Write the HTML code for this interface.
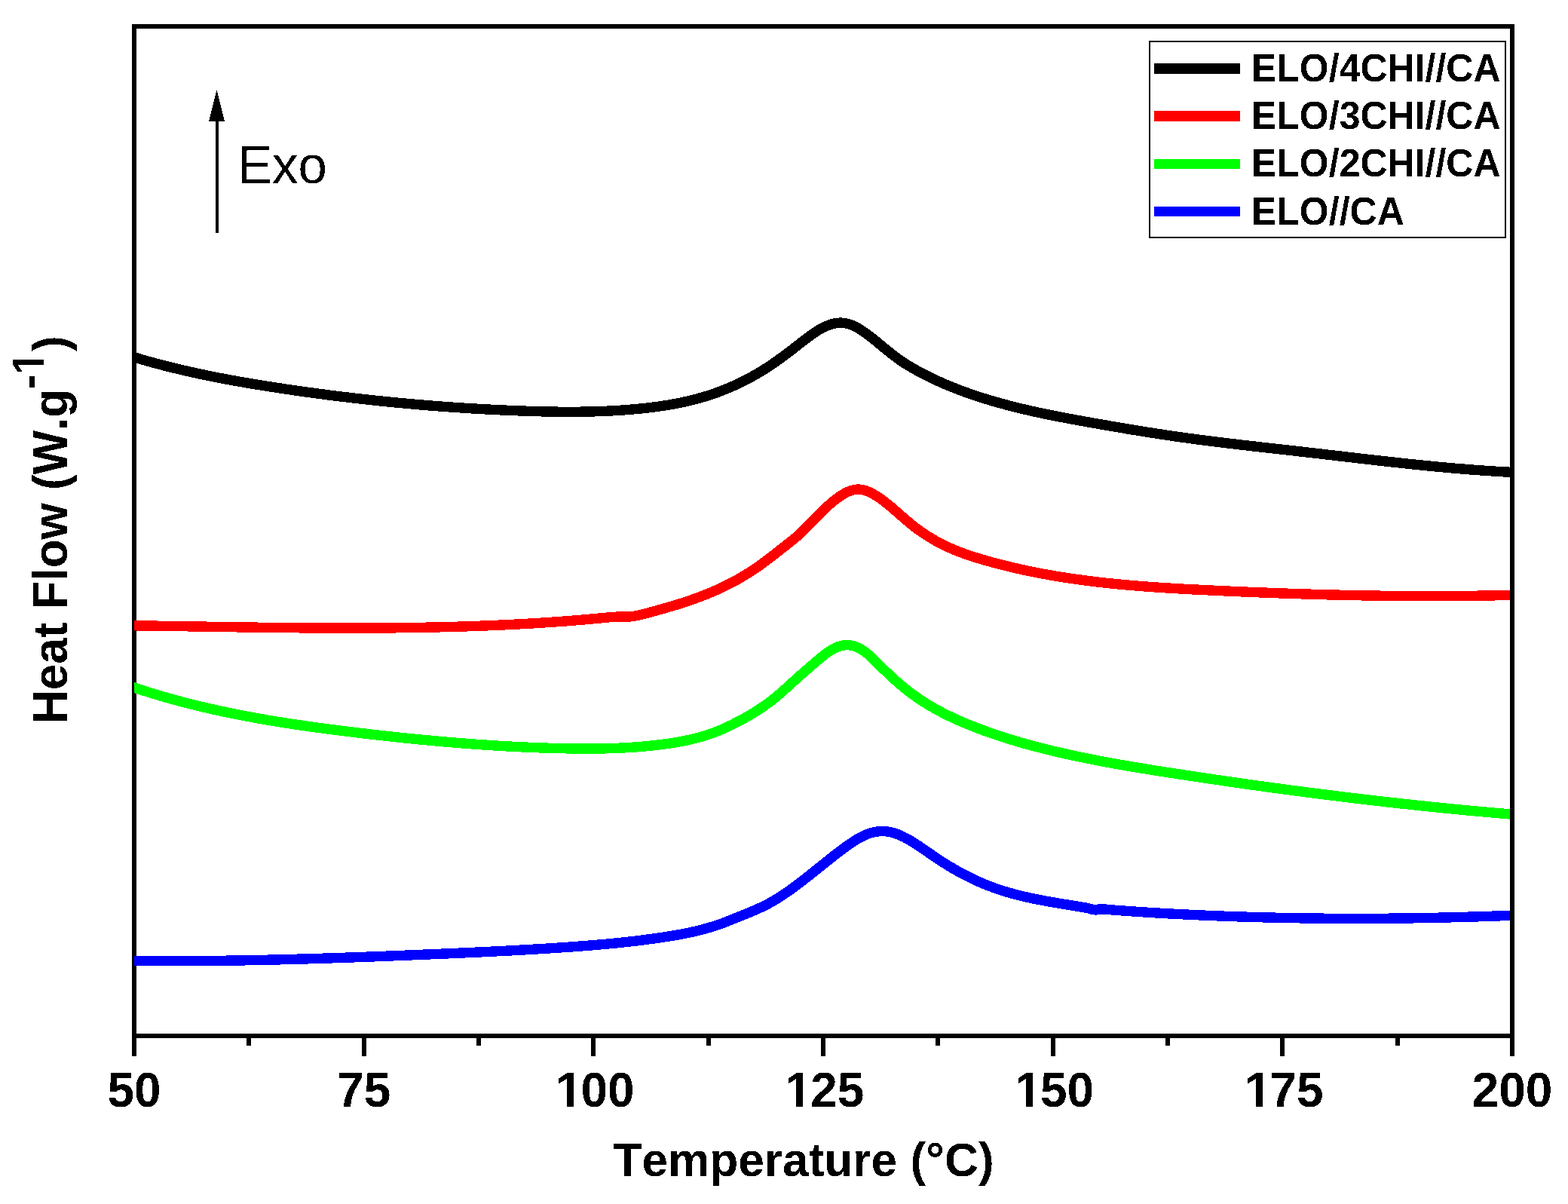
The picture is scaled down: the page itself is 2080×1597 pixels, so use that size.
<!DOCTYPE html>
<html><head><meta charset="utf-8"><title>DSC curves</title>
<style>
html,body{margin:0;padding:0;background:#fff;}
body{width:2080px;height:1597px;overflow:hidden;}
svg{display:block;}
text{font-family:"Liberation Sans",Arial,sans-serif;font-kerning:none;}
</style></head>
<body>
<svg xmlns="http://www.w3.org/2000/svg" width="2080" height="1597" viewBox="0 0 2080 1597">
<defs><filter id="crisp" x="-2500" y="-2500" width="5000" height="5000" filterUnits="userSpaceOnUse" color-interpolation-filters="sRGB"><feComponentTransfer><feFuncA type="discrete" tableValues="0 1"/></feComponentTransfer></filter><clipPath id="plotclip"><rect x="178" y="0" width="1825" height="1597"/></clipPath></defs>
<rect x="0" y="0" width="2080" height="1597" fill="#fff"/>
<rect x="178" y="35" width="1828" height="1339" fill="none" stroke="#000" stroke-width="6"/>
<g stroke="#000" stroke-width="6" shape-rendering="crispEdges">
<line x1="178.00" y1="1374" x2="178.00" y2="1401"/><line x1="330.33" y1="1374" x2="330.33" y2="1387"/><line x1="482.67" y1="1374" x2="482.67" y2="1401"/><line x1="635.00" y1="1374" x2="635.00" y2="1387"/><line x1="787.33" y1="1374" x2="787.33" y2="1401"/><line x1="939.67" y1="1374" x2="939.67" y2="1387"/><line x1="1092.00" y1="1374" x2="1092.00" y2="1401"/><line x1="1244.33" y1="1374" x2="1244.33" y2="1387"/><line x1="1396.67" y1="1374" x2="1396.67" y2="1401"/><line x1="1549.00" y1="1374" x2="1549.00" y2="1387"/><line x1="1701.33" y1="1374" x2="1701.33" y2="1401"/><line x1="1853.67" y1="1374" x2="1853.67" y2="1387"/><line x1="2006.00" y1="1374" x2="2006.00" y2="1401"/>
</g>
<g clip-path="url(#plotclip)" fill="none" stroke-width="13.4" stroke-linejoin="round" stroke-linecap="butt" shape-rendering="crispEdges">
<path stroke="#000000" d="M172.0 472.03 L174.0 472.64 L176.0 473.25 L178.0 473.86 L180.0 474.46 L182.0 475.05 L184.0 475.64 L186.0 476.23 L188.0 476.81 L190.0 477.38 L192.0 477.96 L194.0 478.52 L196.0 479.09 L198.0 479.65 L200.0 480.20 L202.0 480.75 L204.0 481.29 L206.0 481.83 L208.0 482.37 L210.0 482.90 L212.0 483.43 L214.0 483.95 L216.0 484.47 L218.0 484.99 L220.0 485.50 L222.0 486.00 L224.0 486.51 L226.0 487.01 L228.0 487.50 L230.0 487.99 L232.0 488.48 L234.0 488.96 L236.0 489.44 L238.0 489.91 L240.0 490.39 L242.0 490.85 L244.0 491.32 L246.0 491.78 L248.0 492.24 L250.0 492.69 L252.0 493.14 L254.0 493.59 L256.0 494.03 L258.0 494.47 L260.0 494.90 L262.0 495.34 L264.0 495.77 L266.0 496.19 L268.0 496.61 L270.0 497.03 L272.0 497.45 L274.0 497.86 L276.0 498.27 L278.0 498.68 L280.0 499.08 L282.0 499.49 L284.0 499.88 L286.0 500.28 L288.0 500.67 L290.0 501.06 L292.0 501.45 L294.0 501.83 L296.0 502.21 L298.0 502.59 L300.0 502.97 L302.0 503.34 L304.0 503.71 L306.0 504.08 L308.0 504.44 L310.0 504.81 L312.0 505.17 L314.0 505.52 L316.0 505.88 L318.0 506.23 L320.0 506.58 L322.0 506.93 L324.0 507.28 L326.0 507.62 L328.0 507.97 L330.0 508.31 L332.0 508.64 L334.0 508.98 L336.0 509.31 L338.0 509.64 L340.0 509.97 L342.0 510.30 L344.0 510.63 L346.0 510.95 L348.0 511.28 L350.0 511.60 L352.0 511.92 L354.0 512.23 L356.0 512.55 L358.0 512.86 L360.0 513.18 L362.0 513.49 L364.0 513.80 L366.0 514.10 L368.0 514.41 L370.0 514.72 L372.0 515.02 L374.0 515.32 L376.0 515.62 L378.0 515.92 L380.0 516.22 L382.0 516.51 L384.0 516.81 L386.0 517.10 L388.0 517.40 L390.0 517.69 L392.0 517.97 L394.0 518.26 L396.0 518.55 L398.0 518.83 L400.0 519.12 L402.0 519.40 L404.0 519.68 L406.0 519.96 L408.0 520.24 L410.0 520.51 L412.0 520.79 L414.0 521.06 L416.0 521.33 L418.0 521.60 L420.0 521.87 L422.0 522.14 L424.0 522.40 L426.0 522.67 L428.0 522.93 L430.0 523.19 L432.0 523.45 L434.0 523.71 L436.0 523.97 L438.0 524.22 L440.0 524.48 L442.0 524.73 L444.0 524.98 L446.0 525.23 L448.0 525.48 L450.0 525.73 L452.0 525.97 L454.0 526.22 L456.0 526.46 L458.0 526.70 L460.0 526.94 L462.0 527.18 L464.0 527.42 L466.0 527.65 L468.0 527.89 L470.0 528.12 L472.0 528.35 L474.0 528.58 L476.0 528.81 L478.0 529.04 L480.0 529.26 L482.0 529.49 L484.0 529.71 L486.0 529.93 L488.0 530.15 L490.0 530.37 L492.0 530.58 L494.0 530.80 L496.0 531.01 L498.0 531.23 L500.0 531.44 L502.0 531.65 L504.0 531.85 L506.0 532.06 L508.0 532.27 L510.0 532.47 L512.0 532.67 L514.0 532.87 L516.0 533.07 L518.0 533.27 L520.0 533.47 L522.0 533.66 L524.0 533.86 L526.0 534.05 L528.0 534.24 L530.0 534.43 L532.0 534.62 L534.0 534.80 L536.0 534.99 L538.0 535.17 L540.0 535.35 L542.0 535.54 L544.0 535.71 L546.0 535.89 L548.0 536.07 L550.0 536.24 L552.0 536.42 L554.0 536.59 L556.0 536.76 L558.0 536.93 L560.0 537.10 L562.0 537.26 L564.0 537.43 L566.0 537.59 L568.0 537.75 L570.0 537.92 L572.0 538.07 L574.0 538.23 L576.0 538.39 L578.0 538.54 L580.0 538.70 L582.0 538.85 L584.0 539.00 L586.0 539.15 L588.0 539.30 L590.0 539.44 L592.0 539.59 L594.0 539.73 L596.0 539.87 L598.0 540.01 L600.0 540.15 L602.0 540.29 L604.0 540.43 L606.0 540.56 L608.0 540.69 L610.0 540.83 L612.0 540.96 L614.0 541.09 L616.0 541.21 L618.0 541.34 L620.0 541.46 L622.0 541.59 L624.0 541.71 L626.0 541.83 L628.0 541.95 L630.0 542.07 L632.0 542.18 L634.0 542.30 L636.0 542.41 L638.0 542.52 L640.0 542.63 L642.0 542.74 L644.0 542.85 L646.0 542.96 L648.0 543.06 L650.0 543.16 L652.0 543.26 L654.0 543.37 L656.0 543.46 L658.0 543.56 L660.0 543.66 L662.0 543.75 L664.0 543.85 L666.0 543.94 L668.0 544.03 L670.0 544.12 L672.0 544.20 L674.0 544.29 L676.0 544.37 L678.0 544.46 L680.0 544.54 L682.0 544.62 L684.0 544.70 L686.0 544.78 L688.0 544.85 L690.0 544.93 L692.0 545.00 L694.0 545.07 L696.0 545.14 L698.0 545.21 L700.0 545.28 L702.0 545.34 L704.0 545.41 L706.0 545.47 L708.0 545.53 L710.0 545.59 L712.0 545.64 L714.0 545.70 L716.0 545.75 L718.0 545.80 L720.0 545.85 L722.0 545.89 L724.0 545.94 L726.0 545.98 L728.0 546.02 L730.0 546.05 L732.0 546.09 L734.0 546.12 L736.0 546.15 L738.0 546.17 L740.0 546.20 L742.0 546.22 L744.0 546.24 L746.0 546.25 L748.0 546.26 L750.0 546.27 L752.0 546.28 L754.0 546.29 L756.0 546.29 L758.0 546.28 L760.0 546.28 L762.0 546.27 L764.0 546.26 L766.0 546.24 L768.0 546.22 L770.0 546.20 L772.0 546.18 L774.0 546.15 L776.0 546.12 L778.0 546.08 L780.0 546.04 L782.0 546.00 L784.0 545.95 L786.0 545.90 L788.0 545.84 L790.0 545.78 L792.0 545.72 L794.0 545.66 L796.0 545.58 L798.0 545.51 L800.0 545.43 L802.0 545.35 L804.0 545.26 L806.0 545.17 L808.0 545.07 L810.0 544.97 L812.0 544.87 L814.0 544.76 L816.0 544.64 L818.0 544.52 L820.0 544.40 L822.0 544.27 L824.0 544.14 L826.0 544.00 L828.0 543.86 L830.0 543.71 L832.0 543.56 L834.0 543.40 L836.0 543.24 L838.0 543.07 L840.0 542.90 L842.0 542.72 L844.0 542.54 L846.0 542.35 L848.0 542.16 L850.0 541.96 L852.0 541.75 L854.0 541.54 L856.0 541.33 L858.0 541.10 L860.0 540.87 L862.0 540.64 L864.0 540.40 L866.0 540.15 L868.0 539.89 L870.0 539.63 L872.0 539.36 L874.0 539.08 L876.0 538.80 L878.0 538.50 L880.0 538.20 L882.0 537.89 L884.0 537.57 L886.0 537.25 L888.0 536.91 L890.0 536.57 L892.0 536.21 L894.0 535.85 L896.0 535.48 L898.0 535.09 L900.0 534.70 L902.0 534.30 L904.0 533.88 L906.0 533.46 L908.0 533.02 L910.0 532.58 L912.0 532.12 L914.0 531.65 L916.0 531.17 L918.0 530.68 L920.0 530.17 L922.0 529.66 L924.0 529.13 L926.0 528.59 L928.0 528.03 L930.0 527.47 L932.0 526.89 L934.0 526.29 L936.0 525.69 L938.0 525.07 L940.0 524.43 L942.0 523.78 L944.0 523.12 L946.0 522.45 L948.0 521.75 L950.0 521.05 L952.0 520.33 L954.0 519.59 L956.0 518.84 L958.0 518.07 L960.0 517.29 L962.0 516.49 L964.0 515.68 L966.0 514.85 L968.0 514.00 L970.0 513.14 L972.0 512.26 L974.0 511.37 L976.0 510.46 L978.0 509.53 L980.0 508.58 L982.0 507.62 L984.0 506.64 L986.0 505.65 L988.0 504.63 L990.0 503.60 L992.0 502.55 L994.0 501.48 L996.0 500.40 L998.0 499.30 L1000.0 498.18 L1002.0 497.04 L1004.0 495.88 L1006.0 494.70 L1008.0 493.51 L1010.0 492.29 L1012.0 491.06 L1014.0 489.81 L1016.0 488.53 L1018.0 487.24 L1020.0 485.93 L1022.0 484.60 L1024.0 483.25 L1026.0 481.88 L1028.0 480.50 L1030.0 479.10 L1032.0 477.68 L1034.0 476.24 L1036.0 474.80 L1038.0 473.33 L1040.0 471.86 L1042.0 470.37 L1044.0 468.87 L1046.0 467.36 L1048.0 465.84 L1050.0 464.31 L1052.0 462.76 L1054.0 461.22 L1056.0 459.66 L1058.0 458.10 L1060.0 456.53 L1062.0 454.96 L1064.0 453.40 L1066.0 451.84 L1068.0 450.30 L1070.0 448.78 L1072.0 447.28 L1074.0 445.81 L1076.0 444.36 L1078.0 442.96 L1080.0 441.60 L1082.0 440.28 L1084.0 439.01 L1086.0 437.79 L1088.0 436.62 L1090.0 435.52 L1092.0 434.47 L1094.0 433.50 L1096.0 432.59 L1098.0 431.75 L1100.0 431.00 L1102.0 430.32 L1104.0 429.73 L1106.0 429.23 L1108.0 428.82 L1110.0 428.51 L1112.0 428.29 L1114.0 428.18 L1116.0 428.18 L1118.0 428.28 L1120.0 428.51 L1122.0 428.84 L1124.0 429.29 L1126.0 429.85 L1128.0 430.52 L1130.0 431.27 L1132.0 432.13 L1134.0 433.06 L1136.0 434.08 L1138.0 435.18 L1140.0 436.35 L1142.0 437.58 L1144.0 438.88 L1146.0 440.23 L1148.0 441.64 L1150.0 443.09 L1152.0 444.58 L1154.0 446.10 L1156.0 447.66 L1158.0 449.24 L1160.0 450.84 L1162.0 452.46 L1164.0 454.10 L1166.0 455.75 L1168.0 457.40 L1170.0 459.06 L1172.0 460.71 L1174.0 462.36 L1176.0 464.01 L1178.0 465.64 L1180.0 467.25 L1182.0 468.85 L1184.0 470.42 L1186.0 471.97 L1188.0 473.48 L1190.0 474.97 L1192.0 476.41 L1194.0 477.81 L1196.0 479.19 L1198.0 480.52 L1200.0 481.83 L1202.0 483.11 L1204.0 484.35 L1206.0 485.57 L1208.0 486.77 L1210.0 487.94 L1212.0 489.09 L1214.0 490.21 L1216.0 491.32 L1218.0 492.41 L1220.0 493.49 L1222.0 494.55 L1224.0 495.60 L1226.0 496.63 L1228.0 497.65 L1230.0 498.66 L1232.0 499.65 L1234.0 500.63 L1236.0 501.60 L1238.0 502.55 L1240.0 503.50 L1242.0 504.43 L1244.0 505.34 L1246.0 506.25 L1248.0 507.14 L1250.0 508.02 L1252.0 508.89 L1254.0 509.75 L1256.0 510.60 L1258.0 511.44 L1260.0 512.26 L1262.0 513.08 L1264.0 513.89 L1266.0 514.68 L1268.0 515.46 L1270.0 516.24 L1272.0 517.00 L1274.0 517.76 L1276.0 518.51 L1278.0 519.24 L1280.0 519.97 L1282.0 520.69 L1284.0 521.40 L1286.0 522.10 L1288.0 522.79 L1290.0 523.48 L1292.0 524.15 L1294.0 524.82 L1296.0 525.48 L1298.0 526.14 L1300.0 526.79 L1302.0 527.42 L1304.0 528.06 L1306.0 528.68 L1308.0 529.30 L1310.0 529.91 L1312.0 530.52 L1314.0 531.12 L1316.0 531.71 L1318.0 532.29 L1320.0 532.87 L1322.0 533.44 L1324.0 534.01 L1326.0 534.57 L1328.0 535.13 L1330.0 535.67 L1332.0 536.22 L1334.0 536.75 L1336.0 537.28 L1338.0 537.81 L1340.0 538.33 L1342.0 538.85 L1344.0 539.36 L1346.0 539.86 L1348.0 540.36 L1350.0 540.85 L1352.0 541.34 L1354.0 541.83 L1356.0 542.31 L1358.0 542.78 L1360.0 543.25 L1362.0 543.72 L1364.0 544.18 L1366.0 544.63 L1368.0 545.09 L1370.0 545.54 L1372.0 545.98 L1374.0 546.42 L1376.0 546.86 L1378.0 547.29 L1380.0 547.72 L1382.0 548.14 L1384.0 548.56 L1386.0 548.98 L1388.0 549.40 L1390.0 549.81 L1392.0 550.22 L1394.0 550.62 L1396.0 551.03 L1398.0 551.42 L1400.0 551.82 L1402.0 552.21 L1404.0 552.61 L1406.0 552.99 L1408.0 553.38 L1410.0 553.76 L1412.0 554.14 L1414.0 554.52 L1416.0 554.90 L1418.0 555.27 L1420.0 555.65 L1422.0 556.02 L1424.0 556.39 L1426.0 556.75 L1428.0 557.12 L1430.0 557.48 L1432.0 557.85 L1434.0 558.21 L1436.0 558.57 L1438.0 558.93 L1440.0 559.28 L1442.0 559.64 L1444.0 560.00 L1446.0 560.35 L1448.0 560.70 L1450.0 561.06 L1452.0 561.41 L1454.0 561.76 L1456.0 562.11 L1458.0 562.46 L1460.0 562.81 L1462.0 563.16 L1464.0 563.51 L1466.0 563.86 L1468.0 564.21 L1470.0 564.56 L1472.0 564.90 L1474.0 565.25 L1476.0 565.59 L1478.0 565.93 L1480.0 566.27 L1482.0 566.62 L1484.0 566.96 L1486.0 567.30 L1488.0 567.63 L1490.0 567.97 L1492.0 568.31 L1494.0 568.64 L1496.0 568.98 L1498.0 569.31 L1500.0 569.64 L1502.0 569.97 L1504.0 570.30 L1506.0 570.63 L1508.0 570.96 L1510.0 571.29 L1512.0 571.61 L1514.0 571.93 L1516.0 572.26 L1518.0 572.58 L1520.0 572.90 L1522.0 573.21 L1524.0 573.53 L1526.0 573.85 L1528.0 574.16 L1530.0 574.47 L1532.0 574.78 L1534.0 575.09 L1536.0 575.40 L1538.0 575.71 L1540.0 576.01 L1542.0 576.32 L1544.0 576.62 L1546.0 576.92 L1548.0 577.22 L1550.0 577.51 L1552.0 577.81 L1554.0 578.10 L1556.0 578.39 L1558.0 578.68 L1560.0 578.97 L1562.0 579.26 L1564.0 579.54 L1566.0 579.82 L1568.0 580.11 L1570.0 580.38 L1572.0 580.66 L1574.0 580.94 L1576.0 581.21 L1578.0 581.48 L1580.0 581.76 L1582.0 582.02 L1584.0 582.29 L1586.0 582.56 L1588.0 582.82 L1590.0 583.09 L1592.0 583.35 L1594.0 583.61 L1596.0 583.87 L1598.0 584.13 L1600.0 584.38 L1602.0 584.64 L1604.0 584.89 L1606.0 585.15 L1608.0 585.40 L1610.0 585.65 L1612.0 585.90 L1614.0 586.15 L1616.0 586.39 L1618.0 586.64 L1620.0 586.88 L1622.0 587.13 L1624.0 587.37 L1626.0 587.61 L1628.0 587.85 L1630.0 588.09 L1632.0 588.33 L1634.0 588.57 L1636.0 588.81 L1638.0 589.05 L1640.0 589.28 L1642.0 589.52 L1644.0 589.75 L1646.0 589.98 L1648.0 590.22 L1650.0 590.45 L1652.0 590.68 L1654.0 590.91 L1656.0 591.14 L1658.0 591.37 L1660.0 591.60 L1662.0 591.83 L1664.0 592.06 L1666.0 592.29 L1668.0 592.52 L1670.0 592.74 L1672.0 592.97 L1674.0 593.20 L1676.0 593.42 L1678.0 593.65 L1680.0 593.88 L1682.0 594.10 L1684.0 594.33 L1686.0 594.55 L1688.0 594.78 L1690.0 595.00 L1692.0 595.23 L1694.0 595.45 L1696.0 595.68 L1698.0 595.90 L1700.0 596.13 L1702.0 596.35 L1704.0 596.58 L1706.0 596.80 L1708.0 597.03 L1710.0 597.25 L1712.0 597.48 L1714.0 597.70 L1716.0 597.93 L1718.0 598.15 L1720.0 598.38 L1722.0 598.61 L1724.0 598.83 L1726.0 599.06 L1728.0 599.29 L1730.0 599.52 L1732.0 599.74 L1734.0 599.97 L1736.0 600.20 L1738.0 600.43 L1740.0 600.66 L1742.0 600.89 L1744.0 601.12 L1746.0 601.35 L1748.0 601.59 L1750.0 601.82 L1752.0 602.05 L1754.0 602.28 L1756.0 602.51 L1758.0 602.74 L1760.0 602.98 L1762.0 603.21 L1764.0 603.44 L1766.0 603.68 L1768.0 603.91 L1770.0 604.14 L1772.0 604.37 L1774.0 604.61 L1776.0 604.84 L1778.0 605.07 L1780.0 605.31 L1782.0 605.54 L1784.0 605.77 L1786.0 606.00 L1788.0 606.24 L1790.0 606.47 L1792.0 606.70 L1794.0 606.93 L1796.0 607.16 L1798.0 607.40 L1800.0 607.63 L1802.0 607.86 L1804.0 608.09 L1806.0 608.32 L1808.0 608.55 L1810.0 608.78 L1812.0 609.01 L1814.0 609.24 L1816.0 609.47 L1818.0 609.70 L1820.0 609.92 L1822.0 610.15 L1824.0 610.38 L1826.0 610.60 L1828.0 610.83 L1830.0 611.06 L1832.0 611.28 L1834.0 611.50 L1836.0 611.73 L1838.0 611.95 L1840.0 612.17 L1842.0 612.39 L1844.0 612.62 L1846.0 612.84 L1848.0 613.06 L1850.0 613.27 L1852.0 613.49 L1854.0 613.71 L1856.0 613.93 L1858.0 614.14 L1860.0 614.36 L1862.0 614.57 L1864.0 614.78 L1866.0 615.00 L1868.0 615.21 L1870.0 615.42 L1872.0 615.63 L1874.0 615.83 L1876.0 616.04 L1878.0 616.25 L1880.0 616.45 L1882.0 616.66 L1884.0 616.86 L1886.0 617.06 L1888.0 617.26 L1890.0 617.46 L1892.0 617.66 L1894.0 617.86 L1896.0 618.06 L1898.0 618.25 L1900.0 618.44 L1902.0 618.64 L1904.0 618.83 L1906.0 619.02 L1908.0 619.21 L1910.0 619.39 L1912.0 619.58 L1914.0 619.76 L1916.0 619.95 L1918.0 620.13 L1920.0 620.31 L1922.0 620.49 L1924.0 620.66 L1926.0 620.84 L1928.0 621.01 L1930.0 621.19 L1932.0 621.36 L1934.0 621.53 L1936.0 621.70 L1938.0 621.86 L1940.0 622.03 L1942.0 622.19 L1944.0 622.35 L1946.0 622.51 L1948.0 622.67 L1950.0 622.83 L1952.0 622.98 L1954.0 623.13 L1956.0 623.28 L1958.0 623.43 L1960.0 623.58 L1962.0 623.73 L1964.0 623.87 L1966.0 624.01 L1968.0 624.15 L1970.0 624.29 L1972.0 624.42 L1974.0 624.56 L1976.0 624.69 L1978.0 624.82 L1980.0 624.95 L1982.0 625.07 L1984.0 625.20 L1986.0 625.32 L1988.0 625.44 L1990.0 625.55 L1992.0 625.67 L1994.0 625.78 L1996.0 625.89 L1998.0 626.00 L2000.0 626.11 L2002.0 626.21 L2004.0 626.31 L2006.0 626.41 L2008.0 626.51 L2010.0 626.60"/>
<path stroke="#ff0000" d="M172.0 829.70 L174.0 829.72 L176.0 829.75 L178.0 829.78 L180.0 829.80 L182.0 829.83 L184.0 829.86 L186.0 829.88 L188.0 829.91 L190.0 829.94 L192.0 829.97 L194.0 829.99 L196.0 830.02 L198.0 830.05 L200.0 830.08 L202.0 830.11 L204.0 830.14 L206.0 830.16 L208.0 830.19 L210.0 830.22 L212.0 830.25 L214.0 830.28 L216.0 830.31 L218.0 830.34 L220.0 830.37 L222.0 830.40 L224.0 830.43 L226.0 830.46 L228.0 830.49 L230.0 830.52 L232.0 830.55 L234.0 830.58 L236.0 830.62 L238.0 830.65 L240.0 830.68 L242.0 830.71 L244.0 830.74 L246.0 830.77 L248.0 830.80 L250.0 830.83 L252.0 830.86 L254.0 830.89 L256.0 830.93 L258.0 830.96 L260.0 830.99 L262.0 831.02 L264.0 831.05 L266.0 831.08 L268.0 831.11 L270.0 831.14 L272.0 831.18 L274.0 831.21 L276.0 831.24 L278.0 831.27 L280.0 831.30 L282.0 831.33 L284.0 831.36 L286.0 831.39 L288.0 831.42 L290.0 831.45 L292.0 831.48 L294.0 831.51 L296.0 831.55 L298.0 831.58 L300.0 831.61 L302.0 831.64 L304.0 831.67 L306.0 831.69 L308.0 831.72 L310.0 831.75 L312.0 831.78 L314.0 831.81 L316.0 831.84 L318.0 831.87 L320.0 831.90 L322.0 831.93 L324.0 831.96 L326.0 831.98 L328.0 832.01 L330.0 832.04 L332.0 832.07 L334.0 832.09 L336.0 832.12 L338.0 832.15 L340.0 832.17 L342.0 832.20 L344.0 832.23 L346.0 832.25 L348.0 832.28 L350.0 832.30 L352.0 832.33 L354.0 832.35 L356.0 832.38 L358.0 832.40 L360.0 832.43 L362.0 832.45 L364.0 832.47 L366.0 832.50 L368.0 832.52 L370.0 832.54 L372.0 832.56 L374.0 832.58 L376.0 832.61 L378.0 832.63 L380.0 832.65 L382.0 832.67 L384.0 832.69 L386.0 832.71 L388.0 832.73 L390.0 832.74 L392.0 832.76 L394.0 832.78 L396.0 832.80 L398.0 832.82 L400.0 832.83 L402.0 832.85 L404.0 832.86 L406.0 832.88 L408.0 832.90 L410.0 832.91 L412.0 832.92 L414.0 832.94 L416.0 832.95 L418.0 832.96 L420.0 832.98 L422.0 832.99 L424.0 833.00 L426.0 833.01 L428.0 833.02 L430.0 833.03 L432.0 833.04 L434.0 833.05 L436.0 833.06 L438.0 833.06 L440.0 833.07 L442.0 833.08 L444.0 833.08 L446.0 833.09 L448.0 833.10 L450.0 833.10 L452.0 833.10 L454.0 833.11 L456.0 833.11 L458.0 833.11 L460.0 833.11 L462.0 833.11 L464.0 833.12 L466.0 833.11 L468.0 833.11 L470.0 833.11 L472.0 833.11 L474.0 833.11 L476.0 833.10 L478.0 833.10 L480.0 833.10 L482.0 833.09 L484.0 833.08 L486.0 833.08 L488.0 833.07 L490.0 833.06 L492.0 833.05 L494.0 833.04 L496.0 833.03 L498.0 833.02 L500.0 833.01 L502.0 833.00 L504.0 832.99 L506.0 832.97 L508.0 832.96 L510.0 832.94 L512.0 832.93 L514.0 832.91 L516.0 832.89 L518.0 832.88 L520.0 832.86 L522.0 832.84 L524.0 832.82 L526.0 832.79 L528.0 832.77 L530.0 832.75 L532.0 832.73 L534.0 832.70 L536.0 832.68 L538.0 832.65 L540.0 832.62 L542.0 832.60 L544.0 832.57 L546.0 832.54 L548.0 832.51 L550.0 832.48 L552.0 832.44 L554.0 832.41 L556.0 832.38 L558.0 832.34 L560.0 832.31 L562.0 832.27 L564.0 832.23 L566.0 832.19 L568.0 832.15 L570.0 832.11 L572.0 832.07 L574.0 832.03 L576.0 831.99 L578.0 831.94 L580.0 831.90 L582.0 831.85 L584.0 831.81 L586.0 831.76 L588.0 831.71 L590.0 831.66 L592.0 831.61 L594.0 831.56 L596.0 831.51 L598.0 831.45 L600.0 831.40 L602.0 831.34 L604.0 831.28 L606.0 831.23 L608.0 831.17 L610.0 831.11 L612.0 831.05 L614.0 830.98 L616.0 830.92 L618.0 830.86 L620.0 830.79 L622.0 830.73 L624.0 830.66 L626.0 830.59 L628.0 830.52 L630.0 830.45 L632.0 830.38 L634.0 830.31 L636.0 830.23 L638.0 830.16 L640.0 830.08 L642.0 830.00 L644.0 829.93 L646.0 829.85 L648.0 829.76 L650.0 829.68 L652.0 829.60 L654.0 829.52 L656.0 829.43 L658.0 829.34 L660.0 829.26 L662.0 829.17 L664.0 829.08 L666.0 828.98 L668.0 828.89 L670.0 828.80 L672.0 828.70 L674.0 828.61 L676.0 828.51 L678.0 828.41 L680.0 828.31 L682.0 828.21 L684.0 828.11 L686.0 828.00 L688.0 827.90 L690.0 827.79 L692.0 827.68 L694.0 827.57 L696.0 827.46 L698.0 827.35 L700.0 827.23 L702.0 827.12 L704.0 827.00 L706.0 826.89 L708.0 826.77 L710.0 826.65 L712.0 826.52 L714.0 826.40 L716.0 826.28 L718.0 826.15 L720.0 826.02 L722.0 825.89 L724.0 825.76 L726.0 825.63 L728.0 825.49 L730.0 825.36 L732.0 825.22 L734.0 825.08 L736.0 824.94 L738.0 824.80 L740.0 824.66 L742.0 824.51 L744.0 824.37 L746.0 824.22 L748.0 824.07 L750.0 823.92 L752.0 823.76 L754.0 823.61 L756.0 823.45 L758.0 823.30 L760.0 823.14 L762.0 822.98 L764.0 822.81 L766.0 822.65 L768.0 822.48 L770.0 822.31 L772.0 822.14 L774.0 821.97 L776.0 821.80 L778.0 821.62 L780.0 821.45 L782.0 821.27 L784.0 821.09 L786.0 820.91 L788.0 820.72 L790.0 820.54 L792.0 820.35 L794.0 820.16 L796.0 819.97 L798.0 819.77 L800.0 819.58 L802.0 819.38 L804.0 819.19 L806.0 819.00 L808.0 818.82 L810.0 818.65 L812.0 818.50 L814.0 818.37 L816.0 818.26 L818.0 818.18 L820.0 818.13 L822.0 818.10 L824.0 818.09 L826.0 818.09 L828.0 818.09 L830.0 818.07 L832.0 818.03 L834.0 817.96 L836.0 817.84 L838.0 817.66 L840.0 817.43 L842.0 817.13 L844.0 816.78 L846.0 816.38 L848.0 815.94 L850.0 815.46 L852.0 814.96 L854.0 814.44 L856.0 813.90 L858.0 813.36 L860.0 812.82 L862.0 812.27 L864.0 811.73 L866.0 811.18 L868.0 810.63 L870.0 810.08 L872.0 809.52 L874.0 808.97 L876.0 808.41 L878.0 807.84 L880.0 807.28 L882.0 806.71 L884.0 806.13 L886.0 805.55 L888.0 804.97 L890.0 804.38 L892.0 803.78 L894.0 803.18 L896.0 802.58 L898.0 801.96 L900.0 801.34 L902.0 800.72 L904.0 800.08 L906.0 799.44 L908.0 798.79 L910.0 798.14 L912.0 797.47 L914.0 796.80 L916.0 796.11 L918.0 795.42 L920.0 794.72 L922.0 794.00 L924.0 793.28 L926.0 792.55 L928.0 791.80 L930.0 791.05 L932.0 790.28 L934.0 789.50 L936.0 788.71 L938.0 787.91 L940.0 787.09 L942.0 786.26 L944.0 785.42 L946.0 784.57 L948.0 783.70 L950.0 782.82 L952.0 781.92 L954.0 781.00 L956.0 780.08 L958.0 779.13 L960.0 778.18 L962.0 777.20 L964.0 776.21 L966.0 775.20 L968.0 774.18 L970.0 773.14 L972.0 772.08 L974.0 771.01 L976.0 769.91 L978.0 768.80 L980.0 767.67 L982.0 766.53 L984.0 765.36 L986.0 764.18 L988.0 762.98 L990.0 761.75 L992.0 760.51 L994.0 759.25 L996.0 757.97 L998.0 756.67 L1000.0 755.35 L1002.0 754.00 L1004.0 752.64 L1006.0 751.26 L1008.0 749.85 L1010.0 748.42 L1012.0 746.98 L1014.0 745.50 L1016.0 744.01 L1018.0 742.50 L1020.0 740.98 L1022.0 739.44 L1024.0 737.89 L1026.0 736.33 L1028.0 734.76 L1030.0 733.19 L1032.0 731.61 L1034.0 730.03 L1036.0 728.46 L1038.0 726.89 L1040.0 725.32 L1042.0 723.76 L1044.0 722.20 L1046.0 720.64 L1048.0 719.07 L1050.0 717.48 L1052.0 715.86 L1054.0 714.22 L1056.0 712.54 L1058.0 710.81 L1060.0 709.03 L1062.0 707.20 L1064.0 705.32 L1066.0 703.39 L1068.0 701.43 L1070.0 699.43 L1072.0 697.41 L1074.0 695.36 L1076.0 693.30 L1078.0 691.23 L1080.0 689.16 L1082.0 687.09 L1084.0 685.03 L1086.0 682.99 L1088.0 680.96 L1090.0 678.96 L1092.0 677.00 L1094.0 675.07 L1096.0 673.18 L1098.0 671.34 L1100.0 669.55 L1102.0 667.80 L1104.0 666.11 L1106.0 664.46 L1108.0 662.87 L1110.0 661.34 L1112.0 659.87 L1114.0 658.47 L1116.0 657.14 L1118.0 655.89 L1120.0 654.73 L1122.0 653.66 L1124.0 652.69 L1126.0 651.82 L1128.0 651.06 L1130.0 650.42 L1132.0 649.89 L1134.0 649.50 L1136.0 649.24 L1138.0 649.12 L1140.0 649.14 L1142.0 649.32 L1144.0 649.63 L1146.0 650.08 L1148.0 650.65 L1150.0 651.34 L1152.0 652.14 L1154.0 653.04 L1156.0 654.02 L1158.0 655.09 L1160.0 656.23 L1162.0 657.44 L1164.0 658.72 L1166.0 660.06 L1168.0 661.45 L1170.0 662.90 L1172.0 664.39 L1174.0 665.93 L1176.0 667.51 L1178.0 669.12 L1180.0 670.77 L1182.0 672.44 L1184.0 674.14 L1186.0 675.85 L1188.0 677.58 L1190.0 679.32 L1192.0 681.07 L1194.0 682.82 L1196.0 684.57 L1198.0 686.31 L1200.0 688.04 L1202.0 689.76 L1204.0 691.45 L1206.0 693.13 L1208.0 694.77 L1210.0 696.39 L1212.0 697.97 L1214.0 699.51 L1216.0 701.02 L1218.0 702.50 L1220.0 703.94 L1222.0 705.35 L1224.0 706.73 L1226.0 708.08 L1228.0 709.40 L1230.0 710.68 L1232.0 711.94 L1234.0 713.17 L1236.0 714.36 L1238.0 715.54 L1240.0 716.68 L1242.0 717.80 L1244.0 718.89 L1246.0 719.95 L1248.0 720.99 L1250.0 722.01 L1252.0 723.00 L1254.0 723.97 L1256.0 724.91 L1258.0 725.84 L1260.0 726.74 L1262.0 727.62 L1264.0 728.49 L1266.0 729.33 L1268.0 730.15 L1270.0 730.96 L1272.0 731.75 L1274.0 732.52 L1276.0 733.27 L1278.0 734.01 L1280.0 734.73 L1282.0 735.44 L1284.0 736.13 L1286.0 736.81 L1288.0 737.48 L1290.0 738.14 L1292.0 738.78 L1294.0 739.41 L1296.0 740.03 L1298.0 740.64 L1300.0 741.25 L1302.0 741.84 L1304.0 742.42 L1306.0 743.00 L1308.0 743.57 L1310.0 744.14 L1312.0 744.69 L1314.0 745.25 L1316.0 745.79 L1318.0 746.33 L1320.0 746.87 L1322.0 747.40 L1324.0 747.92 L1326.0 748.44 L1328.0 748.95 L1330.0 749.46 L1332.0 749.96 L1334.0 750.46 L1336.0 750.95 L1338.0 751.44 L1340.0 751.92 L1342.0 752.39 L1344.0 752.87 L1346.0 753.33 L1348.0 753.79 L1350.0 754.25 L1352.0 754.69 L1354.0 755.14 L1356.0 755.58 L1358.0 756.01 L1360.0 756.44 L1362.0 756.87 L1364.0 757.29 L1366.0 757.70 L1368.0 758.11 L1370.0 758.52 L1372.0 758.92 L1374.0 759.32 L1376.0 759.71 L1378.0 760.10 L1380.0 760.48 L1382.0 760.86 L1384.0 761.23 L1386.0 761.60 L1388.0 761.96 L1390.0 762.32 L1392.0 762.68 L1394.0 763.03 L1396.0 763.38 L1398.0 763.72 L1400.0 764.06 L1402.0 764.39 L1404.0 764.72 L1406.0 765.05 L1408.0 765.37 L1410.0 765.69 L1412.0 766.00 L1414.0 766.31 L1416.0 766.62 L1418.0 766.92 L1420.0 767.22 L1422.0 767.51 L1424.0 767.80 L1426.0 768.09 L1428.0 768.38 L1430.0 768.65 L1432.0 768.93 L1434.0 769.20 L1436.0 769.47 L1438.0 769.74 L1440.0 770.00 L1442.0 770.26 L1444.0 770.51 L1446.0 770.76 L1448.0 771.01 L1450.0 771.25 L1452.0 771.50 L1454.0 771.73 L1456.0 771.97 L1458.0 772.20 L1460.0 772.43 L1462.0 772.65 L1464.0 772.88 L1466.0 773.10 L1468.0 773.31 L1470.0 773.53 L1472.0 773.74 L1474.0 773.94 L1476.0 774.15 L1478.0 774.35 L1480.0 774.55 L1482.0 774.75 L1484.0 774.94 L1486.0 775.13 L1488.0 775.32 L1490.0 775.50 L1492.0 775.69 L1494.0 775.87 L1496.0 776.04 L1498.0 776.22 L1500.0 776.39 L1502.0 776.56 L1504.0 776.73 L1506.0 776.90 L1508.0 777.06 L1510.0 777.22 L1512.0 777.38 L1514.0 777.54 L1516.0 777.69 L1518.0 777.85 L1520.0 778.00 L1522.0 778.15 L1524.0 778.29 L1526.0 778.44 L1528.0 778.58 L1530.0 778.72 L1532.0 778.86 L1534.0 779.00 L1536.0 779.13 L1538.0 779.26 L1540.0 779.40 L1542.0 779.53 L1544.0 779.65 L1546.0 779.78 L1548.0 779.91 L1550.0 780.03 L1552.0 780.15 L1554.0 780.27 L1556.0 780.39 L1558.0 780.51 L1560.0 780.63 L1562.0 780.74 L1564.0 780.86 L1566.0 780.97 L1568.0 781.08 L1570.0 781.19 L1572.0 781.30 L1574.0 781.41 L1576.0 781.51 L1578.0 781.62 L1580.0 781.72 L1582.0 781.83 L1584.0 781.93 L1586.0 782.03 L1588.0 782.13 L1590.0 782.23 L1592.0 782.33 L1594.0 782.43 L1596.0 782.53 L1598.0 782.63 L1600.0 782.72 L1602.0 782.82 L1604.0 782.92 L1606.0 783.01 L1608.0 783.11 L1610.0 783.20 L1612.0 783.29 L1614.0 783.39 L1616.0 783.48 L1618.0 783.57 L1620.0 783.66 L1622.0 783.75 L1624.0 783.84 L1626.0 783.93 L1628.0 784.02 L1630.0 784.11 L1632.0 784.20 L1634.0 784.29 L1636.0 784.38 L1638.0 784.47 L1640.0 784.55 L1642.0 784.64 L1644.0 784.73 L1646.0 784.81 L1648.0 784.90 L1650.0 784.98 L1652.0 785.07 L1654.0 785.15 L1656.0 785.23 L1658.0 785.32 L1660.0 785.40 L1662.0 785.48 L1664.0 785.56 L1666.0 785.64 L1668.0 785.72 L1670.0 785.80 L1672.0 785.88 L1674.0 785.96 L1676.0 786.04 L1678.0 786.11 L1680.0 786.19 L1682.0 786.27 L1684.0 786.34 L1686.0 786.42 L1688.0 786.49 L1690.0 786.57 L1692.0 786.64 L1694.0 786.71 L1696.0 786.79 L1698.0 786.86 L1700.0 786.93 L1702.0 787.00 L1704.0 787.07 L1706.0 787.14 L1708.0 787.21 L1710.0 787.28 L1712.0 787.34 L1714.0 787.41 L1716.0 787.48 L1718.0 787.54 L1720.0 787.61 L1722.0 787.67 L1724.0 787.74 L1726.0 787.80 L1728.0 787.86 L1730.0 787.93 L1732.0 787.99 L1734.0 788.05 L1736.0 788.11 L1738.0 788.17 L1740.0 788.23 L1742.0 788.29 L1744.0 788.35 L1746.0 788.40 L1748.0 788.46 L1750.0 788.52 L1752.0 788.57 L1754.0 788.63 L1756.0 788.68 L1758.0 788.73 L1760.0 788.79 L1762.0 788.84 L1764.0 788.89 L1766.0 788.94 L1768.0 788.99 L1770.0 789.04 L1772.0 789.09 L1774.0 789.14 L1776.0 789.18 L1778.0 789.23 L1780.0 789.28 L1782.0 789.32 L1784.0 789.37 L1786.0 789.41 L1788.0 789.45 L1790.0 789.50 L1792.0 789.54 L1794.0 789.58 L1796.0 789.62 L1798.0 789.66 L1800.0 789.70 L1802.0 789.74 L1804.0 789.77 L1806.0 789.81 L1808.0 789.85 L1810.0 789.88 L1812.0 789.91 L1814.0 789.95 L1816.0 789.98 L1818.0 790.01 L1820.0 790.05 L1822.0 790.08 L1824.0 790.11 L1826.0 790.14 L1828.0 790.16 L1830.0 790.19 L1832.0 790.22 L1834.0 790.24 L1836.0 790.27 L1838.0 790.29 L1840.0 790.32 L1842.0 790.34 L1844.0 790.36 L1846.0 790.38 L1848.0 790.41 L1850.0 790.42 L1852.0 790.44 L1854.0 790.46 L1856.0 790.48 L1858.0 790.50 L1860.0 790.51 L1862.0 790.53 L1864.0 790.54 L1866.0 790.55 L1868.0 790.57 L1870.0 790.58 L1872.0 790.59 L1874.0 790.60 L1876.0 790.61 L1878.0 790.62 L1880.0 790.62 L1882.0 790.63 L1884.0 790.64 L1886.0 790.64 L1888.0 790.65 L1890.0 790.65 L1892.0 790.65 L1894.0 790.65 L1896.0 790.65 L1898.0 790.65 L1900.0 790.65 L1902.0 790.65 L1904.0 790.65 L1906.0 790.64 L1908.0 790.64 L1910.0 790.63 L1912.0 790.63 L1914.0 790.62 L1916.0 790.61 L1918.0 790.60 L1920.0 790.59 L1922.0 790.58 L1924.0 790.57 L1926.0 790.56 L1928.0 790.54 L1930.0 790.53 L1932.0 790.51 L1934.0 790.50 L1936.0 790.48 L1938.0 790.46 L1940.0 790.44 L1942.0 790.42 L1944.0 790.40 L1946.0 790.38 L1948.0 790.35 L1950.0 790.33 L1952.0 790.31 L1954.0 790.28 L1956.0 790.25 L1958.0 790.23 L1960.0 790.20 L1962.0 790.17 L1964.0 790.14 L1966.0 790.10 L1968.0 790.07 L1970.0 790.04 L1972.0 790.00 L1974.0 789.97 L1976.0 789.93 L1978.0 789.89 L1980.0 789.86 L1982.0 789.82 L1984.0 789.78 L1986.0 789.73 L1988.0 789.69 L1990.0 789.65 L1992.0 789.60 L1994.0 789.56 L1996.0 789.51 L1998.0 789.46 L2000.0 789.41 L2002.0 789.36 L2004.0 789.31 L2006.0 789.26 L2008.0 789.21 L2010.0 789.16"/>
<path stroke="#00ff00" d="M172.0 910.04 L174.0 910.72 L176.0 911.39 L178.0 912.06 L180.0 912.73 L182.0 913.39 L184.0 914.04 L186.0 914.69 L188.0 915.33 L190.0 915.97 L192.0 916.61 L194.0 917.24 L196.0 917.87 L198.0 918.49 L200.0 919.10 L202.0 919.72 L204.0 920.32 L206.0 920.93 L208.0 921.52 L210.0 922.12 L212.0 922.71 L214.0 923.29 L216.0 923.87 L218.0 924.45 L220.0 925.02 L222.0 925.59 L224.0 926.15 L226.0 926.71 L228.0 927.27 L230.0 927.82 L232.0 928.37 L234.0 928.91 L236.0 929.45 L238.0 929.98 L240.0 930.51 L242.0 931.04 L244.0 931.56 L246.0 932.08 L248.0 932.59 L250.0 933.10 L252.0 933.61 L254.0 934.11 L256.0 934.61 L258.0 935.10 L260.0 935.60 L262.0 936.08 L264.0 936.57 L266.0 937.05 L268.0 937.52 L270.0 937.99 L272.0 938.46 L274.0 938.93 L276.0 939.39 L278.0 939.85 L280.0 940.30 L282.0 940.75 L284.0 941.20 L286.0 941.65 L288.0 942.09 L290.0 942.52 L292.0 942.96 L294.0 943.39 L296.0 943.82 L298.0 944.24 L300.0 944.66 L302.0 945.08 L304.0 945.49 L306.0 945.91 L308.0 946.31 L310.0 946.72 L312.0 947.12 L314.0 947.52 L316.0 947.91 L318.0 948.31 L320.0 948.70 L322.0 949.08 L324.0 949.47 L326.0 949.85 L328.0 950.23 L330.0 950.60 L332.0 950.97 L334.0 951.34 L336.0 951.71 L338.0 952.08 L340.0 952.44 L342.0 952.80 L344.0 953.15 L346.0 953.51 L348.0 953.86 L350.0 954.20 L352.0 954.55 L354.0 954.89 L356.0 955.23 L358.0 955.57 L360.0 955.91 L362.0 956.24 L364.0 956.57 L366.0 956.90 L368.0 957.23 L370.0 957.55 L372.0 957.87 L374.0 958.19 L376.0 958.51 L378.0 958.82 L380.0 959.14 L382.0 959.45 L384.0 959.76 L386.0 960.06 L388.0 960.37 L390.0 960.67 L392.0 960.97 L394.0 961.27 L396.0 961.56 L398.0 961.86 L400.0 962.15 L402.0 962.44 L404.0 962.73 L406.0 963.02 L408.0 963.30 L410.0 963.59 L412.0 963.87 L414.0 964.15 L416.0 964.42 L418.0 964.70 L420.0 964.98 L422.0 965.25 L424.0 965.52 L426.0 965.79 L428.0 966.06 L430.0 966.33 L432.0 966.59 L434.0 966.86 L436.0 967.12 L438.0 967.38 L440.0 967.64 L442.0 967.90 L444.0 968.16 L446.0 968.41 L448.0 968.67 L450.0 968.92 L452.0 969.17 L454.0 969.42 L456.0 969.67 L458.0 969.92 L460.0 970.17 L462.0 970.42 L464.0 970.66 L466.0 970.91 L468.0 971.15 L470.0 971.39 L472.0 971.64 L474.0 971.88 L476.0 972.12 L478.0 972.36 L480.0 972.59 L482.0 972.83 L484.0 973.07 L486.0 973.30 L488.0 973.54 L490.0 973.77 L492.0 974.00 L494.0 974.23 L496.0 974.46 L498.0 974.69 L500.0 974.92 L502.0 975.14 L504.0 975.37 L506.0 975.60 L508.0 975.82 L510.0 976.04 L512.0 976.26 L514.0 976.48 L516.0 976.70 L518.0 976.92 L520.0 977.14 L522.0 977.35 L524.0 977.57 L526.0 977.78 L528.0 977.99 L530.0 978.21 L532.0 978.42 L534.0 978.63 L536.0 978.83 L538.0 979.04 L540.0 979.25 L542.0 979.45 L544.0 979.65 L546.0 979.85 L548.0 980.06 L550.0 980.26 L552.0 980.45 L554.0 980.65 L556.0 980.85 L558.0 981.04 L560.0 981.23 L562.0 981.43 L564.0 981.62 L566.0 981.81 L568.0 981.99 L570.0 982.18 L572.0 982.37 L574.0 982.55 L576.0 982.73 L578.0 982.92 L580.0 983.10 L582.0 983.28 L584.0 983.45 L586.0 983.63 L588.0 983.80 L590.0 983.98 L592.0 984.15 L594.0 984.32 L596.0 984.49 L598.0 984.66 L600.0 984.82 L602.0 984.99 L604.0 985.15 L606.0 985.32 L608.0 985.48 L610.0 985.64 L612.0 985.79 L614.0 985.95 L616.0 986.11 L618.0 986.26 L620.0 986.41 L622.0 986.56 L624.0 986.71 L626.0 986.86 L628.0 987.01 L630.0 987.15 L632.0 987.29 L634.0 987.44 L636.0 987.58 L638.0 987.71 L640.0 987.85 L642.0 987.99 L644.0 988.12 L646.0 988.25 L648.0 988.38 L650.0 988.51 L652.0 988.64 L654.0 988.77 L656.0 988.89 L658.0 989.01 L660.0 989.14 L662.0 989.25 L664.0 989.37 L666.0 989.49 L668.0 989.60 L670.0 989.72 L672.0 989.83 L674.0 989.94 L676.0 990.05 L678.0 990.15 L680.0 990.26 L682.0 990.36 L684.0 990.46 L686.0 990.56 L688.0 990.66 L690.0 990.75 L692.0 990.85 L694.0 990.94 L696.0 991.03 L698.0 991.12 L700.0 991.21 L702.0 991.29 L704.0 991.38 L706.0 991.46 L708.0 991.54 L710.0 991.62 L712.0 991.69 L714.0 991.77 L716.0 991.84 L718.0 991.91 L720.0 991.98 L722.0 992.05 L724.0 992.11 L726.0 992.18 L728.0 992.24 L730.0 992.30 L732.0 992.36 L734.0 992.41 L736.0 992.47 L738.0 992.52 L740.0 992.57 L742.0 992.62 L744.0 992.67 L746.0 992.71 L748.0 992.75 L750.0 992.79 L752.0 992.83 L754.0 992.87 L756.0 992.90 L758.0 992.93 L760.0 992.96 L762.0 992.98 L764.0 993.01 L766.0 993.03 L768.0 993.04 L770.0 993.06 L772.0 993.07 L774.0 993.08 L776.0 993.08 L778.0 993.08 L780.0 993.08 L782.0 993.07 L784.0 993.07 L786.0 993.05 L788.0 993.04 L790.0 993.02 L792.0 993.00 L794.0 992.97 L796.0 992.94 L798.0 992.90 L800.0 992.87 L802.0 992.82 L804.0 992.78 L806.0 992.72 L808.0 992.67 L810.0 992.61 L812.0 992.54 L814.0 992.48 L816.0 992.40 L818.0 992.32 L820.0 992.24 L822.0 992.15 L824.0 992.06 L826.0 991.96 L828.0 991.86 L830.0 991.75 L832.0 991.64 L834.0 991.52 L836.0 991.40 L838.0 991.27 L840.0 991.13 L842.0 990.99 L844.0 990.85 L846.0 990.70 L848.0 990.54 L850.0 990.38 L852.0 990.21 L854.0 990.03 L856.0 989.85 L858.0 989.66 L860.0 989.47 L862.0 989.27 L864.0 989.06 L866.0 988.85 L868.0 988.63 L870.0 988.41 L872.0 988.18 L874.0 987.94 L876.0 987.69 L878.0 987.44 L880.0 987.18 L882.0 986.91 L884.0 986.64 L886.0 986.36 L888.0 986.07 L890.0 985.77 L892.0 985.46 L894.0 985.15 L896.0 984.82 L898.0 984.48 L900.0 984.13 L902.0 983.77 L904.0 983.40 L906.0 983.02 L908.0 982.62 L910.0 982.22 L912.0 981.79 L914.0 981.36 L916.0 980.91 L918.0 980.44 L920.0 979.96 L922.0 979.47 L924.0 978.95 L926.0 978.42 L928.0 977.88 L930.0 977.32 L932.0 976.74 L934.0 976.14 L936.0 975.52 L938.0 974.88 L940.0 974.22 L942.0 973.55 L944.0 972.85 L946.0 972.13 L948.0 971.39 L950.0 970.63 L952.0 969.85 L954.0 969.04 L956.0 968.21 L958.0 967.36 L960.0 966.48 L962.0 965.58 L964.0 964.65 L966.0 963.71 L968.0 962.74 L970.0 961.76 L972.0 960.76 L974.0 959.75 L976.0 958.72 L978.0 957.68 L980.0 956.62 L982.0 955.56 L984.0 954.49 L986.0 953.40 L988.0 952.29 L990.0 951.17 L992.0 950.03 L994.0 948.88 L996.0 947.71 L998.0 946.51 L1000.0 945.30 L1002.0 944.06 L1004.0 942.81 L1006.0 941.53 L1008.0 940.22 L1010.0 938.89 L1012.0 937.53 L1014.0 936.15 L1016.0 934.74 L1018.0 933.30 L1020.0 931.83 L1022.0 930.33 L1024.0 928.79 L1026.0 927.22 L1028.0 925.62 L1030.0 923.99 L1032.0 922.32 L1034.0 920.61 L1036.0 918.88 L1038.0 917.13 L1040.0 915.35 L1042.0 913.55 L1044.0 911.74 L1046.0 909.92 L1048.0 908.09 L1050.0 906.26 L1052.0 904.43 L1054.0 902.60 L1056.0 900.78 L1058.0 898.97 L1060.0 897.18 L1062.0 895.40 L1064.0 893.64 L1066.0 891.89 L1068.0 890.15 L1070.0 888.42 L1072.0 886.70 L1074.0 884.99 L1076.0 883.27 L1078.0 881.56 L1080.0 879.84 L1082.0 878.12 L1084.0 876.41 L1086.0 874.70 L1088.0 873.02 L1090.0 871.37 L1092.0 869.76 L1094.0 868.20 L1096.0 866.69 L1098.0 865.25 L1100.0 863.88 L1102.0 862.59 L1104.0 861.40 L1106.0 860.30 L1108.0 859.31 L1110.0 858.44 L1112.0 857.69 L1114.0 857.05 L1116.0 856.53 L1118.0 856.13 L1120.0 855.85 L1122.0 855.69 L1124.0 855.65 L1126.0 855.74 L1128.0 855.95 L1130.0 856.28 L1132.0 856.74 L1134.0 857.33 L1136.0 858.05 L1138.0 858.90 L1140.0 859.87 L1142.0 860.98 L1144.0 862.22 L1146.0 863.58 L1148.0 865.06 L1150.0 866.64 L1152.0 868.30 L1154.0 870.05 L1156.0 871.87 L1158.0 873.75 L1160.0 875.67 L1162.0 877.63 L1164.0 879.61 L1166.0 881.61 L1168.0 883.61 L1170.0 885.60 L1172.0 887.58 L1174.0 889.53 L1176.0 891.47 L1178.0 893.38 L1180.0 895.27 L1182.0 897.14 L1184.0 898.98 L1186.0 900.80 L1188.0 902.60 L1190.0 904.37 L1192.0 906.11 L1194.0 907.83 L1196.0 909.51 L1198.0 911.17 L1200.0 912.81 L1202.0 914.41 L1204.0 915.98 L1206.0 917.52 L1208.0 919.04 L1210.0 920.53 L1212.0 921.99 L1214.0 923.42 L1216.0 924.83 L1218.0 926.21 L1220.0 927.57 L1222.0 928.90 L1224.0 930.21 L1226.0 931.50 L1228.0 932.76 L1230.0 934.00 L1232.0 935.22 L1234.0 936.41 L1236.0 937.59 L1238.0 938.74 L1240.0 939.88 L1242.0 940.99 L1244.0 942.09 L1246.0 943.17 L1248.0 944.23 L1250.0 945.27 L1252.0 946.30 L1254.0 947.31 L1256.0 948.31 L1258.0 949.29 L1260.0 950.25 L1262.0 951.20 L1264.0 952.14 L1266.0 953.07 L1268.0 953.98 L1270.0 954.87 L1272.0 955.76 L1274.0 956.63 L1276.0 957.50 L1278.0 958.35 L1280.0 959.19 L1282.0 960.02 L1284.0 960.84 L1286.0 961.65 L1288.0 962.45 L1290.0 963.25 L1292.0 964.03 L1294.0 964.81 L1296.0 965.58 L1298.0 966.34 L1300.0 967.10 L1302.0 967.84 L1304.0 968.58 L1306.0 969.32 L1308.0 970.04 L1310.0 970.76 L1312.0 971.47 L1314.0 972.17 L1316.0 972.87 L1318.0 973.56 L1320.0 974.24 L1322.0 974.92 L1324.0 975.59 L1326.0 976.25 L1328.0 976.91 L1330.0 977.56 L1332.0 978.20 L1334.0 978.84 L1336.0 979.47 L1338.0 980.09 L1340.0 980.71 L1342.0 981.33 L1344.0 981.93 L1346.0 982.53 L1348.0 983.13 L1350.0 983.72 L1352.0 984.30 L1354.0 984.88 L1356.0 985.46 L1358.0 986.02 L1360.0 986.59 L1362.0 987.14 L1364.0 987.69 L1366.0 988.24 L1368.0 988.78 L1370.0 989.32 L1372.0 989.85 L1374.0 990.38 L1376.0 990.90 L1378.0 991.42 L1380.0 991.93 L1382.0 992.44 L1384.0 992.95 L1386.0 993.45 L1388.0 993.94 L1390.0 994.43 L1392.0 994.92 L1394.0 995.40 L1396.0 995.88 L1398.0 996.36 L1400.0 996.83 L1402.0 997.30 L1404.0 997.76 L1406.0 998.22 L1408.0 998.68 L1410.0 999.14 L1412.0 999.59 L1414.0 1000.03 L1416.0 1000.48 L1418.0 1000.92 L1420.0 1001.35 L1422.0 1001.79 L1424.0 1002.22 L1426.0 1002.65 L1428.0 1003.07 L1430.0 1003.49 L1432.0 1003.91 L1434.0 1004.33 L1436.0 1004.74 L1438.0 1005.15 L1440.0 1005.56 L1442.0 1005.96 L1444.0 1006.36 L1446.0 1006.76 L1448.0 1007.16 L1450.0 1007.55 L1452.0 1007.94 L1454.0 1008.33 L1456.0 1008.72 L1458.0 1009.10 L1460.0 1009.48 L1462.0 1009.86 L1464.0 1010.24 L1466.0 1010.61 L1468.0 1010.98 L1470.0 1011.35 L1472.0 1011.72 L1474.0 1012.08 L1476.0 1012.45 L1478.0 1012.81 L1480.0 1013.17 L1482.0 1013.52 L1484.0 1013.88 L1486.0 1014.23 L1488.0 1014.58 L1490.0 1014.93 L1492.0 1015.28 L1494.0 1015.62 L1496.0 1015.97 L1498.0 1016.31 L1500.0 1016.65 L1502.0 1016.99 L1504.0 1017.32 L1506.0 1017.66 L1508.0 1017.99 L1510.0 1018.32 L1512.0 1018.65 L1514.0 1018.98 L1516.0 1019.31 L1518.0 1019.64 L1520.0 1019.96 L1522.0 1020.29 L1524.0 1020.61 L1526.0 1020.93 L1528.0 1021.25 L1530.0 1021.57 L1532.0 1021.89 L1534.0 1022.21 L1536.0 1022.52 L1538.0 1022.84 L1540.0 1023.15 L1542.0 1023.47 L1544.0 1023.78 L1546.0 1024.09 L1548.0 1024.40 L1550.0 1024.71 L1552.0 1025.02 L1554.0 1025.33 L1556.0 1025.64 L1558.0 1025.95 L1560.0 1026.25 L1562.0 1026.56 L1564.0 1026.87 L1566.0 1027.17 L1568.0 1027.48 L1570.0 1027.78 L1572.0 1028.09 L1574.0 1028.39 L1576.0 1028.70 L1578.0 1029.00 L1580.0 1029.30 L1582.0 1029.60 L1584.0 1029.90 L1586.0 1030.20 L1588.0 1030.50 L1590.0 1030.80 L1592.0 1031.10 L1594.0 1031.40 L1596.0 1031.70 L1598.0 1032.00 L1600.0 1032.29 L1602.0 1032.59 L1604.0 1032.89 L1606.0 1033.18 L1608.0 1033.48 L1610.0 1033.77 L1612.0 1034.07 L1614.0 1034.36 L1616.0 1034.65 L1618.0 1034.95 L1620.0 1035.24 L1622.0 1035.53 L1624.0 1035.82 L1626.0 1036.11 L1628.0 1036.40 L1630.0 1036.69 L1632.0 1036.98 L1634.0 1037.27 L1636.0 1037.55 L1638.0 1037.84 L1640.0 1038.13 L1642.0 1038.41 L1644.0 1038.70 L1646.0 1038.98 L1648.0 1039.27 L1650.0 1039.55 L1652.0 1039.84 L1654.0 1040.12 L1656.0 1040.40 L1658.0 1040.68 L1660.0 1040.96 L1662.0 1041.24 L1664.0 1041.52 L1666.0 1041.80 L1668.0 1042.08 L1670.0 1042.36 L1672.0 1042.64 L1674.0 1042.91 L1676.0 1043.19 L1678.0 1043.47 L1680.0 1043.74 L1682.0 1044.02 L1684.0 1044.29 L1686.0 1044.57 L1688.0 1044.84 L1690.0 1045.11 L1692.0 1045.38 L1694.0 1045.65 L1696.0 1045.93 L1698.0 1046.20 L1700.0 1046.47 L1702.0 1046.73 L1704.0 1047.00 L1706.0 1047.27 L1708.0 1047.54 L1710.0 1047.80 L1712.0 1048.07 L1714.0 1048.34 L1716.0 1048.60 L1718.0 1048.87 L1720.0 1049.13 L1722.0 1049.39 L1724.0 1049.66 L1726.0 1049.92 L1728.0 1050.18 L1730.0 1050.44 L1732.0 1050.70 L1734.0 1050.96 L1736.0 1051.22 L1738.0 1051.48 L1740.0 1051.74 L1742.0 1051.99 L1744.0 1052.25 L1746.0 1052.51 L1748.0 1052.76 L1750.0 1053.02 L1752.0 1053.27 L1754.0 1053.52 L1756.0 1053.78 L1758.0 1054.03 L1760.0 1054.28 L1762.0 1054.53 L1764.0 1054.78 L1766.0 1055.03 L1768.0 1055.28 L1770.0 1055.53 L1772.0 1055.78 L1774.0 1056.03 L1776.0 1056.27 L1778.0 1056.52 L1780.0 1056.77 L1782.0 1057.01 L1784.0 1057.25 L1786.0 1057.50 L1788.0 1057.74 L1790.0 1057.98 L1792.0 1058.23 L1794.0 1058.47 L1796.0 1058.71 L1798.0 1058.95 L1800.0 1059.19 L1802.0 1059.43 L1804.0 1059.66 L1806.0 1059.90 L1808.0 1060.14 L1810.0 1060.37 L1812.0 1060.61 L1814.0 1060.84 L1816.0 1061.08 L1818.0 1061.31 L1820.0 1061.54 L1822.0 1061.78 L1824.0 1062.01 L1826.0 1062.24 L1828.0 1062.47 L1830.0 1062.70 L1832.0 1062.93 L1834.0 1063.16 L1836.0 1063.38 L1838.0 1063.61 L1840.0 1063.84 L1842.0 1064.06 L1844.0 1064.29 L1846.0 1064.51 L1848.0 1064.73 L1850.0 1064.96 L1852.0 1065.18 L1854.0 1065.40 L1856.0 1065.62 L1858.0 1065.84 L1860.0 1066.06 L1862.0 1066.28 L1864.0 1066.50 L1866.0 1066.72 L1868.0 1066.93 L1870.0 1067.15 L1872.0 1067.37 L1874.0 1067.58 L1876.0 1067.79 L1878.0 1068.01 L1880.0 1068.22 L1882.0 1068.43 L1884.0 1068.64 L1886.0 1068.85 L1888.0 1069.06 L1890.0 1069.27 L1892.0 1069.48 L1894.0 1069.69 L1896.0 1069.90 L1898.0 1070.10 L1900.0 1070.31 L1902.0 1070.52 L1904.0 1070.72 L1906.0 1070.92 L1908.0 1071.13 L1910.0 1071.33 L1912.0 1071.53 L1914.0 1071.73 L1916.0 1071.93 L1918.0 1072.13 L1920.0 1072.33 L1922.0 1072.53 L1924.0 1072.73 L1926.0 1072.92 L1928.0 1073.12 L1930.0 1073.31 L1932.0 1073.51 L1934.0 1073.70 L1936.0 1073.89 L1938.0 1074.09 L1940.0 1074.28 L1942.0 1074.47 L1944.0 1074.66 L1946.0 1074.85 L1948.0 1075.04 L1950.0 1075.23 L1952.0 1075.41 L1954.0 1075.60 L1956.0 1075.79 L1958.0 1075.97 L1960.0 1076.16 L1962.0 1076.34 L1964.0 1076.52 L1966.0 1076.70 L1968.0 1076.89 L1970.0 1077.07 L1972.0 1077.25 L1974.0 1077.43 L1976.0 1077.60 L1978.0 1077.78 L1980.0 1077.96 L1982.0 1078.13 L1984.0 1078.31 L1986.0 1078.48 L1988.0 1078.66 L1990.0 1078.83 L1992.0 1079.00 L1994.0 1079.18 L1996.0 1079.35 L1998.0 1079.52 L2000.0 1079.69 L2002.0 1079.86 L2004.0 1080.02 L2006.0 1080.19 L2008.0 1080.36 L2010.0 1080.52"/>
<path stroke="#0000ff" d="M172.0 1274.42 L174.0 1274.44 L176.0 1274.46 L178.0 1274.48 L180.0 1274.50 L182.0 1274.52 L184.0 1274.54 L186.0 1274.56 L188.0 1274.58 L190.0 1274.60 L192.0 1274.61 L194.0 1274.62 L196.0 1274.64 L198.0 1274.65 L200.0 1274.66 L202.0 1274.67 L204.0 1274.68 L206.0 1274.69 L208.0 1274.70 L210.0 1274.71 L212.0 1274.72 L214.0 1274.72 L216.0 1274.73 L218.0 1274.73 L220.0 1274.73 L222.0 1274.74 L224.0 1274.74 L226.0 1274.74 L228.0 1274.74 L230.0 1274.74 L232.0 1274.74 L234.0 1274.73 L236.0 1274.73 L238.0 1274.73 L240.0 1274.72 L242.0 1274.71 L244.0 1274.71 L246.0 1274.70 L248.0 1274.69 L250.0 1274.68 L252.0 1274.67 L254.0 1274.66 L256.0 1274.65 L258.0 1274.64 L260.0 1274.63 L262.0 1274.61 L264.0 1274.60 L266.0 1274.58 L268.0 1274.57 L270.0 1274.55 L272.0 1274.53 L274.0 1274.51 L276.0 1274.50 L278.0 1274.48 L280.0 1274.46 L282.0 1274.43 L284.0 1274.41 L286.0 1274.39 L288.0 1274.37 L290.0 1274.34 L292.0 1274.32 L294.0 1274.29 L296.0 1274.27 L298.0 1274.24 L300.0 1274.21 L302.0 1274.19 L304.0 1274.16 L306.0 1274.13 L308.0 1274.10 L310.0 1274.07 L312.0 1274.03 L314.0 1274.00 L316.0 1273.97 L318.0 1273.94 L320.0 1273.90 L322.0 1273.87 L324.0 1273.83 L326.0 1273.80 L328.0 1273.76 L330.0 1273.72 L332.0 1273.68 L334.0 1273.65 L336.0 1273.61 L338.0 1273.57 L340.0 1273.53 L342.0 1273.49 L344.0 1273.44 L346.0 1273.40 L348.0 1273.36 L350.0 1273.32 L352.0 1273.27 L354.0 1273.23 L356.0 1273.18 L358.0 1273.14 L360.0 1273.09 L362.0 1273.04 L364.0 1273.00 L366.0 1272.95 L368.0 1272.90 L370.0 1272.85 L372.0 1272.80 L374.0 1272.75 L376.0 1272.70 L378.0 1272.65 L380.0 1272.60 L382.0 1272.55 L384.0 1272.49 L386.0 1272.44 L388.0 1272.39 L390.0 1272.33 L392.0 1272.28 L394.0 1272.22 L396.0 1272.17 L398.0 1272.11 L400.0 1272.05 L402.0 1272.00 L404.0 1271.94 L406.0 1271.88 L408.0 1271.82 L410.0 1271.76 L412.0 1271.70 L414.0 1271.64 L416.0 1271.58 L418.0 1271.52 L420.0 1271.46 L422.0 1271.40 L424.0 1271.34 L426.0 1271.27 L428.0 1271.21 L430.0 1271.15 L432.0 1271.08 L434.0 1271.02 L436.0 1270.95 L438.0 1270.89 L440.0 1270.82 L442.0 1270.75 L444.0 1270.69 L446.0 1270.62 L448.0 1270.55 L450.0 1270.49 L452.0 1270.42 L454.0 1270.35 L456.0 1270.28 L458.0 1270.21 L460.0 1270.14 L462.0 1270.07 L464.0 1270.00 L466.0 1269.93 L468.0 1269.86 L470.0 1269.79 L472.0 1269.72 L474.0 1269.64 L476.0 1269.57 L478.0 1269.50 L480.0 1269.43 L482.0 1269.35 L484.0 1269.28 L486.0 1269.20 L488.0 1269.13 L490.0 1269.06 L492.0 1268.98 L494.0 1268.90 L496.0 1268.83 L498.0 1268.75 L500.0 1268.68 L502.0 1268.60 L504.0 1268.52 L506.0 1268.45 L508.0 1268.37 L510.0 1268.29 L512.0 1268.21 L514.0 1268.14 L516.0 1268.06 L518.0 1267.98 L520.0 1267.90 L522.0 1267.82 L524.0 1267.74 L526.0 1267.66 L528.0 1267.58 L530.0 1267.50 L532.0 1267.42 L534.0 1267.34 L536.0 1267.26 L538.0 1267.18 L540.0 1267.10 L542.0 1267.01 L544.0 1266.93 L546.0 1266.85 L548.0 1266.77 L550.0 1266.69 L552.0 1266.60 L554.0 1266.52 L556.0 1266.44 L558.0 1266.36 L560.0 1266.27 L562.0 1266.19 L564.0 1266.11 L566.0 1266.02 L568.0 1265.94 L570.0 1265.85 L572.0 1265.77 L574.0 1265.69 L576.0 1265.60 L578.0 1265.52 L580.0 1265.43 L582.0 1265.35 L584.0 1265.26 L586.0 1265.18 L588.0 1265.09 L590.0 1265.00 L592.0 1264.92 L594.0 1264.83 L596.0 1264.74 L598.0 1264.66 L600.0 1264.57 L602.0 1264.48 L604.0 1264.39 L606.0 1264.31 L608.0 1264.22 L610.0 1264.13 L612.0 1264.04 L614.0 1263.95 L616.0 1263.86 L618.0 1263.77 L620.0 1263.68 L622.0 1263.59 L624.0 1263.50 L626.0 1263.40 L628.0 1263.31 L630.0 1263.22 L632.0 1263.13 L634.0 1263.03 L636.0 1262.94 L638.0 1262.84 L640.0 1262.75 L642.0 1262.65 L644.0 1262.56 L646.0 1262.46 L648.0 1262.36 L650.0 1262.27 L652.0 1262.17 L654.0 1262.07 L656.0 1261.97 L658.0 1261.87 L660.0 1261.77 L662.0 1261.67 L664.0 1261.57 L666.0 1261.46 L668.0 1261.36 L670.0 1261.26 L672.0 1261.15 L674.0 1261.05 L676.0 1260.94 L678.0 1260.84 L680.0 1260.73 L682.0 1260.62 L684.0 1260.51 L686.0 1260.40 L688.0 1260.29 L690.0 1260.18 L692.0 1260.07 L694.0 1259.96 L696.0 1259.85 L698.0 1259.73 L700.0 1259.62 L702.0 1259.51 L704.0 1259.39 L706.0 1259.27 L708.0 1259.16 L710.0 1259.04 L712.0 1258.92 L714.0 1258.80 L716.0 1258.68 L718.0 1258.56 L720.0 1258.43 L722.0 1258.31 L724.0 1258.19 L726.0 1258.06 L728.0 1257.93 L730.0 1257.81 L732.0 1257.68 L734.0 1257.55 L736.0 1257.42 L738.0 1257.29 L740.0 1257.16 L742.0 1257.02 L744.0 1256.89 L746.0 1256.76 L748.0 1256.62 L750.0 1256.48 L752.0 1256.34 L754.0 1256.20 L756.0 1256.06 L758.0 1255.92 L760.0 1255.78 L762.0 1255.63 L764.0 1255.49 L766.0 1255.34 L768.0 1255.19 L770.0 1255.04 L772.0 1254.88 L774.0 1254.73 L776.0 1254.57 L778.0 1254.42 L780.0 1254.26 L782.0 1254.10 L784.0 1253.93 L786.0 1253.77 L788.0 1253.60 L790.0 1253.43 L792.0 1253.26 L794.0 1253.09 L796.0 1252.91 L798.0 1252.73 L800.0 1252.55 L802.0 1252.37 L804.0 1252.19 L806.0 1252.00 L808.0 1251.81 L810.0 1251.62 L812.0 1251.43 L814.0 1251.23 L816.0 1251.03 L818.0 1250.83 L820.0 1250.63 L822.0 1250.42 L824.0 1250.21 L826.0 1250.00 L828.0 1249.79 L830.0 1249.57 L832.0 1249.35 L834.0 1249.12 L836.0 1248.90 L838.0 1248.67 L840.0 1248.44 L842.0 1248.20 L844.0 1247.96 L846.0 1247.72 L848.0 1247.48 L850.0 1247.23 L852.0 1246.98 L854.0 1246.72 L856.0 1246.47 L858.0 1246.20 L860.0 1245.94 L862.0 1245.67 L864.0 1245.40 L866.0 1245.12 L868.0 1244.84 L870.0 1244.56 L872.0 1244.28 L874.0 1243.99 L876.0 1243.69 L878.0 1243.39 L880.0 1243.09 L882.0 1242.79 L884.0 1242.48 L886.0 1242.16 L888.0 1241.84 L890.0 1241.52 L892.0 1241.19 L894.0 1240.85 L896.0 1240.51 L898.0 1240.16 L900.0 1239.81 L902.0 1239.44 L904.0 1239.07 L906.0 1238.69 L908.0 1238.30 L910.0 1237.91 L912.0 1237.50 L914.0 1237.09 L916.0 1236.66 L918.0 1236.22 L920.0 1235.78 L922.0 1235.32 L924.0 1234.85 L926.0 1234.37 L928.0 1233.87 L930.0 1233.37 L932.0 1232.85 L934.0 1232.31 L936.0 1231.77 L938.0 1231.21 L940.0 1230.63 L942.0 1230.04 L944.0 1229.44 L946.0 1228.82 L948.0 1228.18 L950.0 1227.53 L952.0 1226.86 L954.0 1226.17 L956.0 1225.47 L958.0 1224.75 L960.0 1224.01 L962.0 1223.25 L964.0 1222.48 L966.0 1221.69 L968.0 1220.89 L970.0 1220.09 L972.0 1219.27 L974.0 1218.45 L976.0 1217.63 L978.0 1216.81 L980.0 1216.00 L982.0 1215.19 L984.0 1214.38 L986.0 1213.57 L988.0 1212.76 L990.0 1211.95 L992.0 1211.14 L994.0 1210.32 L996.0 1209.49 L998.0 1208.65 L1000.0 1207.81 L1002.0 1206.94 L1004.0 1206.07 L1006.0 1205.17 L1008.0 1204.26 L1010.0 1203.33 L1012.0 1202.38 L1014.0 1201.40 L1016.0 1200.39 L1018.0 1199.36 L1020.0 1198.30 L1022.0 1197.20 L1024.0 1196.08 L1026.0 1194.93 L1028.0 1193.75 L1030.0 1192.54 L1032.0 1191.30 L1034.0 1190.04 L1036.0 1188.75 L1038.0 1187.44 L1040.0 1186.10 L1042.0 1184.74 L1044.0 1183.36 L1046.0 1181.97 L1048.0 1180.55 L1050.0 1179.11 L1052.0 1177.66 L1054.0 1176.19 L1056.0 1174.70 L1058.0 1173.20 L1060.0 1171.68 L1062.0 1170.16 L1064.0 1168.62 L1066.0 1167.07 L1068.0 1165.51 L1070.0 1163.94 L1072.0 1162.36 L1074.0 1160.78 L1076.0 1159.19 L1078.0 1157.59 L1080.0 1155.99 L1082.0 1154.39 L1084.0 1152.78 L1086.0 1151.18 L1088.0 1149.57 L1090.0 1147.97 L1092.0 1146.36 L1094.0 1144.76 L1096.0 1143.17 L1098.0 1141.57 L1100.0 1139.99 L1102.0 1138.41 L1104.0 1136.84 L1106.0 1135.27 L1108.0 1133.72 L1110.0 1132.17 L1112.0 1130.64 L1114.0 1129.12 L1116.0 1127.62 L1118.0 1126.12 L1120.0 1124.65 L1122.0 1123.19 L1124.0 1121.75 L1126.0 1120.33 L1128.0 1118.95 L1130.0 1117.59 L1132.0 1116.27 L1134.0 1114.99 L1136.0 1113.76 L1138.0 1112.57 L1140.0 1111.43 L1142.0 1110.35 L1144.0 1109.33 L1146.0 1108.37 L1148.0 1107.47 L1150.0 1106.65 L1152.0 1105.90 L1154.0 1105.23 L1156.0 1104.63 L1158.0 1104.11 L1160.0 1103.67 L1162.0 1103.30 L1164.0 1103.01 L1166.0 1102.79 L1168.0 1102.66 L1170.0 1102.60 L1172.0 1102.62 L1174.0 1102.72 L1176.0 1102.89 L1178.0 1103.15 L1180.0 1103.49 L1182.0 1103.91 L1184.0 1104.40 L1186.0 1104.97 L1188.0 1105.61 L1190.0 1106.32 L1192.0 1107.09 L1194.0 1107.92 L1196.0 1108.81 L1198.0 1109.76 L1200.0 1110.76 L1202.0 1111.80 L1204.0 1112.89 L1206.0 1114.03 L1208.0 1115.20 L1210.0 1116.41 L1212.0 1117.65 L1214.0 1118.92 L1216.0 1120.21 L1218.0 1121.53 L1220.0 1122.87 L1222.0 1124.23 L1224.0 1125.60 L1226.0 1126.97 L1228.0 1128.36 L1230.0 1129.75 L1232.0 1131.14 L1234.0 1132.53 L1236.0 1133.91 L1238.0 1135.29 L1240.0 1136.65 L1242.0 1138.00 L1244.0 1139.33 L1246.0 1140.64 L1248.0 1141.95 L1250.0 1143.23 L1252.0 1144.50 L1254.0 1145.76 L1256.0 1146.99 L1258.0 1148.22 L1260.0 1149.43 L1262.0 1150.62 L1264.0 1151.79 L1266.0 1152.95 L1268.0 1154.10 L1270.0 1155.23 L1272.0 1156.34 L1274.0 1157.43 L1276.0 1158.51 L1278.0 1159.58 L1280.0 1160.63 L1282.0 1161.66 L1284.0 1162.67 L1286.0 1163.67 L1288.0 1164.65 L1290.0 1165.62 L1292.0 1166.57 L1294.0 1167.50 L1296.0 1168.42 L1298.0 1169.32 L1300.0 1170.20 L1302.0 1171.06 L1304.0 1171.91 L1306.0 1172.74 L1308.0 1173.56 L1310.0 1174.36 L1312.0 1175.14 L1314.0 1175.90 L1316.0 1176.65 L1318.0 1177.38 L1320.0 1178.10 L1322.0 1178.80 L1324.0 1179.48 L1326.0 1180.15 L1328.0 1180.81 L1330.0 1181.45 L1332.0 1182.08 L1334.0 1182.69 L1336.0 1183.29 L1338.0 1183.88 L1340.0 1184.45 L1342.0 1185.02 L1344.0 1185.57 L1346.0 1186.11 L1348.0 1186.63 L1350.0 1187.15 L1352.0 1187.66 L1354.0 1188.15 L1356.0 1188.64 L1358.0 1189.11 L1360.0 1189.58 L1362.0 1190.03 L1364.0 1190.48 L1366.0 1190.92 L1368.0 1191.35 L1370.0 1191.77 L1372.0 1192.19 L1374.0 1192.60 L1376.0 1193.00 L1378.0 1193.39 L1380.0 1193.78 L1382.0 1194.16 L1384.0 1194.54 L1386.0 1194.91 L1388.0 1195.27 L1390.0 1195.63 L1392.0 1195.99 L1394.0 1196.34 L1396.0 1196.69 L1398.0 1197.04 L1400.0 1197.38 L1402.0 1197.72 L1404.0 1198.05 L1406.0 1198.39 L1408.0 1198.72 L1410.0 1199.05 L1412.0 1199.38 L1414.0 1199.71 L1416.0 1200.03 L1418.0 1200.36 L1420.0 1200.69 L1422.0 1201.01 L1424.0 1201.34 L1426.0 1201.67 L1428.0 1202.00 L1430.0 1202.33 L1432.0 1202.66 L1434.0 1203.00 L1436.0 1203.40 L1438.0 1203.70 L1440.0 1204.00 L1442.0 1204.30 L1444.0 1204.85 L1446.0 1205.40 L1448.0 1206.07 L1450.0 1206.52 L1452.0 1206.76 L1454.0 1207.00 L1456.0 1206.30 L1458.0 1206.05 L1460.0 1205.80 L1462.0 1205.85 L1464.0 1205.90 L1466.0 1206.07 L1468.0 1206.23 L1470.0 1206.40 L1472.0 1206.60 L1474.0 1206.80 L1476.0 1207.00 L1478.0 1207.15 L1480.0 1207.30 L1482.0 1207.45 L1484.0 1207.60 L1486.0 1207.75 L1488.0 1207.89 L1490.0 1208.04 L1492.0 1208.18 L1494.0 1208.32 L1496.0 1208.47 L1498.0 1208.61 L1500.0 1208.74 L1502.0 1208.88 L1504.0 1209.02 L1506.0 1209.15 L1508.0 1209.29 L1510.0 1209.42 L1512.0 1209.55 L1514.0 1209.68 L1516.0 1209.81 L1518.0 1209.94 L1520.0 1210.06 L1522.0 1210.19 L1524.0 1210.31 L1526.0 1210.44 L1528.0 1210.56 L1530.0 1210.68 L1532.0 1210.80 L1534.0 1210.92 L1536.0 1211.04 L1538.0 1211.15 L1540.0 1211.27 L1542.0 1211.38 L1544.0 1211.50 L1546.0 1211.61 L1548.0 1211.72 L1550.0 1211.83 L1552.0 1211.94 L1554.0 1212.05 L1556.0 1212.15 L1558.0 1212.26 L1560.0 1212.36 L1562.0 1212.47 L1564.0 1212.57 L1566.0 1212.67 L1568.0 1212.77 L1570.0 1212.87 L1572.0 1212.97 L1574.0 1213.07 L1576.0 1213.17 L1578.0 1213.26 L1580.0 1213.36 L1582.0 1213.45 L1584.0 1213.54 L1586.0 1213.63 L1588.0 1213.72 L1590.0 1213.81 L1592.0 1213.90 L1594.0 1213.99 L1596.0 1214.08 L1598.0 1214.16 L1600.0 1214.25 L1602.0 1214.33 L1604.0 1214.42 L1606.0 1214.50 L1608.0 1214.58 L1610.0 1214.66 L1612.0 1214.74 L1614.0 1214.82 L1616.0 1214.90 L1618.0 1214.97 L1620.0 1215.05 L1622.0 1215.13 L1624.0 1215.20 L1626.0 1215.27 L1628.0 1215.35 L1630.0 1215.42 L1632.0 1215.49 L1634.0 1215.56 L1636.0 1215.63 L1638.0 1215.70 L1640.0 1215.76 L1642.0 1215.83 L1644.0 1215.90 L1646.0 1215.96 L1648.0 1216.03 L1650.0 1216.09 L1652.0 1216.15 L1654.0 1216.21 L1656.0 1216.27 L1658.0 1216.33 L1660.0 1216.39 L1662.0 1216.45 L1664.0 1216.51 L1666.0 1216.56 L1668.0 1216.62 L1670.0 1216.67 L1672.0 1216.72 L1674.0 1216.78 L1676.0 1216.83 L1678.0 1216.88 L1680.0 1216.93 L1682.0 1216.98 L1684.0 1217.03 L1686.0 1217.07 L1688.0 1217.12 L1690.0 1217.17 L1692.0 1217.21 L1694.0 1217.26 L1696.0 1217.30 L1698.0 1217.34 L1700.0 1217.38 L1702.0 1217.42 L1704.0 1217.46 L1706.0 1217.50 L1708.0 1217.54 L1710.0 1217.58 L1712.0 1217.61 L1714.0 1217.65 L1716.0 1217.68 L1718.0 1217.72 L1720.0 1217.75 L1722.0 1217.78 L1724.0 1217.81 L1726.0 1217.85 L1728.0 1217.88 L1730.0 1217.90 L1732.0 1217.93 L1734.0 1217.96 L1736.0 1217.99 L1738.0 1218.01 L1740.0 1218.04 L1742.0 1218.06 L1744.0 1218.08 L1746.0 1218.10 L1748.0 1218.13 L1750.0 1218.15 L1752.0 1218.17 L1754.0 1218.18 L1756.0 1218.20 L1758.0 1218.22 L1760.0 1218.24 L1762.0 1218.25 L1764.0 1218.27 L1766.0 1218.28 L1768.0 1218.29 L1770.0 1218.31 L1772.0 1218.32 L1774.0 1218.33 L1776.0 1218.34 L1778.0 1218.35 L1780.0 1218.35 L1782.0 1218.36 L1784.0 1218.37 L1786.0 1218.37 L1788.0 1218.38 L1790.0 1218.38 L1792.0 1218.39 L1794.0 1218.39 L1796.0 1218.39 L1798.0 1218.39 L1800.0 1218.39 L1802.0 1218.39 L1804.0 1218.39 L1806.0 1218.39 L1808.0 1218.38 L1810.0 1218.38 L1812.0 1218.37 L1814.0 1218.37 L1816.0 1218.36 L1818.0 1218.35 L1820.0 1218.35 L1822.0 1218.34 L1824.0 1218.33 L1826.0 1218.32 L1828.0 1218.31 L1830.0 1218.29 L1832.0 1218.28 L1834.0 1218.27 L1836.0 1218.25 L1838.0 1218.24 L1840.0 1218.22 L1842.0 1218.20 L1844.0 1218.19 L1846.0 1218.17 L1848.0 1218.15 L1850.0 1218.13 L1852.0 1218.11 L1854.0 1218.09 L1856.0 1218.06 L1858.0 1218.04 L1860.0 1218.02 L1862.0 1217.99 L1864.0 1217.97 L1866.0 1217.94 L1868.0 1217.91 L1870.0 1217.88 L1872.0 1217.86 L1874.0 1217.83 L1876.0 1217.80 L1878.0 1217.77 L1880.0 1217.73 L1882.0 1217.70 L1884.0 1217.67 L1886.0 1217.63 L1888.0 1217.60 L1890.0 1217.56 L1892.0 1217.53 L1894.0 1217.49 L1896.0 1217.45 L1898.0 1217.41 L1900.0 1217.37 L1902.0 1217.33 L1904.0 1217.29 L1906.0 1217.25 L1908.0 1217.21 L1910.0 1217.16 L1912.0 1217.12 L1914.0 1217.07 L1916.0 1217.03 L1918.0 1216.98 L1920.0 1216.94 L1922.0 1216.89 L1924.0 1216.84 L1926.0 1216.79 L1928.0 1216.74 L1930.0 1216.69 L1932.0 1216.64 L1934.0 1216.58 L1936.0 1216.53 L1938.0 1216.48 L1940.0 1216.42 L1942.0 1216.37 L1944.0 1216.31 L1946.0 1216.25 L1948.0 1216.19 L1950.0 1216.14 L1952.0 1216.08 L1954.0 1216.02 L1956.0 1215.96 L1958.0 1215.89 L1960.0 1215.83 L1962.0 1215.77 L1964.0 1215.71 L1966.0 1215.64 L1968.0 1215.58 L1970.0 1215.51 L1972.0 1215.44 L1974.0 1215.38 L1976.0 1215.31 L1978.0 1215.24 L1980.0 1215.17 L1982.0 1215.10 L1984.0 1215.03 L1986.0 1214.96 L1988.0 1214.88 L1990.0 1214.81 L1992.0 1214.74 L1994.0 1214.66 L1996.0 1214.58 L1998.0 1214.51 L2000.0 1214.43 L2002.0 1214.35 L2004.0 1214.28 L2006.0 1214.20 L2008.0 1214.12 L2010.0 1214.04"/>
</g>
<g font-weight="bold" font-size="64" text-anchor="middle" fill="#000" filter="url(#crisp)" transform="translate(0,1468) scale(1,1.022) translate(0,-1468)">
<text x="178.00" y="1468">50</text><text x="482.67" y="1468">75</text><text x="787.33" y="1468"><tspan dx="2">1</tspan><tspan dx="-2">00</tspan></text><text x="1092.00" y="1468"><tspan dx="2">1</tspan><tspan dx="-2">25</tspan></text><text x="1396.67" y="1468"><tspan dx="2">1</tspan><tspan dx="-2">50</tspan></text><text x="1701.33" y="1468"><tspan dx="2">1</tspan><tspan dx="-2">75</tspan></text><text x="2006.00" y="1468">200</text>
</g>
<text filter="url(#crisp)" transform="translate(0,1560) scale(1,1.02) translate(0,-1560)" x="1066" y="1560" font-weight="bold" font-size="62.2" text-anchor="middle">Temperature (°C)</text>
<text filter="url(#crisp)" transform="translate(89,960) rotate(-90) scale(1,1.06)" font-weight="bold" font-size="62">Heat Flow (W.g<tspan dy="-29.2" font-size="56">-1</tspan><tspan dy="29.2">)</tspan></text>
<line x1="288" y1="309" x2="288" y2="150" stroke="#000" stroke-width="4"/>
<polygon points="287.5,119.5 277,161 298,161" fill="#000" shape-rendering="crispEdges"/>
<text filter="url(#crisp)" transform="translate(0,243) scale(1,1.02) translate(0,-243)" x="315" y="243" font-size="69">Exo</text>
<rect x="1525" y="55" width="472" height="260" fill="#fff" stroke="#000" stroke-width="2"/>
<g shape-rendering="crispEdges">
<rect x="1531" y="84" width="114" height="14" fill="#000"/>
<rect x="1531" y="147" width="114" height="14" fill="#ff0000"/>
<rect x="1531" y="211" width="114" height="13" fill="#00ff00"/>
<rect x="1531" y="274" width="114" height="13" fill="#0000ff"/>
</g>
<g font-weight="bold" font-size="50" fill="#000" filter="url(#crisp)">
<text transform="translate(0,108) scale(1,1.029) translate(0,-108)" x="1660" y="108">ELO/4CHI//CA</text>
<text transform="translate(0,171.3) scale(1,1.029) translate(0,-171.3)" x="1660" y="171.3">ELO/3CHI//CA</text>
<text transform="translate(0,234.3) scale(1,1.029) translate(0,-234.3)" x="1660" y="234.3">ELO/2CHI//CA</text>
<text transform="translate(0,298) scale(1,1.029) translate(0,-298)" x="1660" y="298">ELO//CA</text>
</g>
<g fill="#fff"><rect x="740" y="1461" width="12" height="7.5"/><rect x="761" y="1461" width="11" height="7.5"/><rect x="1045" y="1461" width="11" height="7.5"/><rect x="1065" y="1461" width="11" height="7.5"/><rect x="1349" y="1461" width="12" height="7.5"/><rect x="1370" y="1461" width="11" height="7.5"/><rect x="1654" y="1461" width="12" height="7.5"/><rect x="1675" y="1461" width="11" height="7.5"/><rect x="51.5" y="467" width="7" height="10"/><rect x="51.5" y="484" width="7" height="11"/></g>
</svg>
</body></html>
